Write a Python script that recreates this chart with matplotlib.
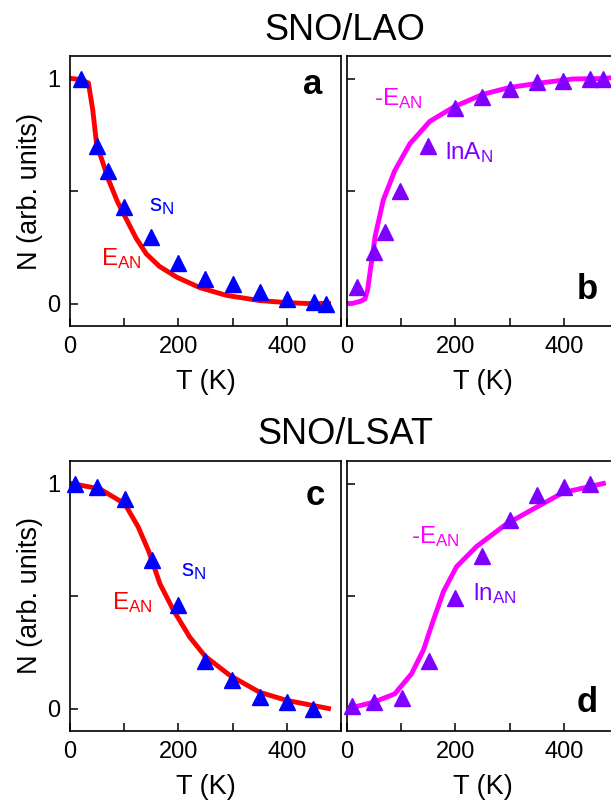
import numpy as np
import matplotlib
matplotlib.use('Agg')
import matplotlib.pyplot as plt
from matplotlib.ticker import MultipleLocator

plt.rcParams['font.family'] = ['Liberation Sans', 'DejaVu Sans']
plt.rcParams['mathtext.fontset'] = 'custom'
plt.rcParams['mathtext.rm'] = 'Liberation Sans'

# panel a: SNO/LAO, s_N points and E_AN curve
a_pts_T = [20, 50, 70, 100, 150, 200, 250, 300, 350, 400, 450, 473]
a_pts_N = [1.0, 0.70, 0.59, 0.43, 0.296, 0.18, 0.107, 0.085, 0.05, 0.02, 0.005, 0.0]
a_line_T = [3, 20, 34, 42, 49, 60, 71, 88, 105, 122, 141, 165, 197, 240, 289, 350, 400, 437, 477]
a_line_N = [1.0, 0.995, 0.98, 0.86, 0.71, 0.63, 0.55, 0.45, 0.37, 0.29, 0.22, 0.165, 0.117, 0.07, 0.036, 0.013, 0.004, 0.0, 0.0]

# panel b: SNO/LAO, lnA_N points and -E_AN curve
b_pts_T = [19, 50, 71, 98, 150, 199, 249, 300, 350, 399, 449, 473]
b_pts_N = [0.073, 0.23, 0.32, 0.50, 0.70, 0.87, 0.92, 0.955, 0.985, 0.99, 1.0, 1.0]
b_line_T = [0, 9, 25, 33, 38, 42, 52, 67, 88, 116, 153, 199, 251, 300, 356, 417, 473, 495]
b_line_N = [0.0, 0.0, 0.01, 0.02, 0.06, 0.13, 0.30, 0.46, 0.59, 0.71, 0.81, 0.876, 0.93, 0.96, 0.98, 0.998, 1.0, 1.005]

# panel c: SNO/LSAT, s_N points and E_AN curve
c_pts_T = [9, 50, 101, 151, 200, 249, 298, 350, 400, 449]
c_pts_N = [1.0, 0.985, 0.93, 0.66, 0.46, 0.21, 0.125, 0.05, 0.028, 0.0]
c_line_T = [3, 55, 101, 126, 145, 166, 191, 221, 249, 295, 350, 400, 477]
c_line_N = [1.0, 0.976, 0.91, 0.806, 0.70, 0.554, 0.436, 0.317, 0.233, 0.147, 0.072, 0.036, 0.0]

# panel d: SNO/LSAT, ln_AN points and -E_AN curve
d_pts_T = [10, 50, 101, 152, 199, 249, 300, 351, 400, 449]
d_pts_N = [0.01, 0.03, 0.047, 0.21, 0.49, 0.68, 0.84, 0.95, 0.985, 1.0]
d_line_T = [2, 49, 88, 119, 141, 159, 178, 202, 239, 294, 350, 399, 473]
d_line_N = [0.0, 0.028, 0.065, 0.154, 0.26, 0.39, 0.52, 0.63, 0.72, 0.82, 0.895, 0.96, 1.0]

W, H = 611, 801
fig = plt.figure(figsize=(W / 100, H / 100), dpi=100)

def px_axes(left, top, width, height):
    # place an axes using pixel coordinates measured from the top-left
    return fig.add_axes([left / W, 1 - (top + height) / H, width / W, height / H])

ax_a = px_axes(70, 56, 271, 270)
ax_b = px_axes(347, 56, 271, 270)
ax_c = px_axes(70, 461, 271, 270)
ax_d = px_axes(347, 461, 271, 270)

blue = '#0000ff'
red = '#ff0000'
magenta = '#ff00ff'
violet = '#8000ff'
fs_tick = 17
fs_label = 19.5
fs_note = 17.5

for ax in [ax_a, ax_b, ax_c, ax_d]:
    ax.set_xlim(0, 500)
    ax.set_ylim(-0.1, 1.1)
    ax.xaxis.set_major_locator(MultipleLocator(200))
    ax.xaxis.set_minor_locator(MultipleLocator(100))
    ax.set_yticks([0, 1])
    ax.set_yticks([0.5], minor=True)
    ax.tick_params(which='both', direction='in', length=6, width=1.1,
                   labelsize=fs_tick, top=False, right=False, pad=7)
    ax.set_xlabel('T (K)', fontsize=fs_label, labelpad=8)
    for sp in ax.spines.values():
        sp.set_linewidth(1.2)

for ax in [ax_b, ax_d]:
    ax.tick_params(labelleft=False)
    ax.spines['right'].set_visible(False)

for ax in [ax_a, ax_c]:
    ax.set_ylabel('N (arb. units)', fontsize=fs_label, labelpad=3)

# curves first, triangles on top
ax_a.plot(a_line_T, a_line_N, color=red, lw=3.5, zorder=2)
ax_a.plot(a_pts_T, a_pts_N, '^', color=blue, ms=12, zorder=3, clip_on=False)
ax_b.plot(b_line_T, b_line_N, color=magenta, lw=3.5, zorder=2)
ax_b.plot(b_pts_T, b_pts_N, '^', color=violet, ms=12, zorder=3, clip_on=False)
ax_c.plot(c_line_T, c_line_N, color=red, lw=3.5, zorder=2)
ax_c.plot(c_pts_T, c_pts_N, '^', color=blue, ms=12, zorder=3, clip_on=False)
ax_d.plot(d_line_T, d_line_N, color=magenta, lw=3.5, zorder=2)
ax_d.plot(d_pts_T, d_pts_N, '^', color=violet, ms=12, zorder=3, clip_on=False)

# curve and point labels
ax_a.text(145, 0.41, r'$\mathregular{s_N}$', color=blue, fontsize=fs_note)
ax_a.text(57, 0.17, r'$\mathregular{E_{AN}}$', color=red, fontsize=fs_note)
ax_b.text(50, 0.88, r'-$\mathregular{E_{AN}}$', color=magenta, fontsize=fs_note)
ax_b.text(181, 0.64, r'$\mathregular{lnA_N}$', color=violet, fontsize=fs_note)
ax_c.text(205, 0.59, r'$\mathregular{s_N}$', color=blue, fontsize=fs_note)
ax_c.text(77, 0.44, r'$\mathregular{E_{AN}}$', color=red, fontsize=fs_note)
ax_d.text(118, 0.735, r'-$\mathregular{E_{AN}}$', color=magenta, fontsize=fs_note)
ax_d.text(232, 0.48, r'$\mathregular{ln_{AN}}$', color=violet, fontsize=fs_note)

# panel letters
for ax, letter, x, y in [(ax_a, 'a', 0.897, 0.896), (ax_b, 'b', 0.886, 0.136),
                         (ax_c, 'c', 0.904, 0.874), (ax_d, 'd', 0.886, 0.104)]:
    ax.text(x, y, letter, transform=ax.transAxes, fontsize=25,
            fontweight='bold', ha='center', va='center')

fig.text(345 / W, 1 - 30 / H, 'SNO/LAO', fontsize=26, ha='center', va='center')
fig.text(345 / W, 1 - 434 / H, 'SNO/LSAT', fontsize=26, ha='center', va='center')

fig.savefig('out.png', dpi=100)
